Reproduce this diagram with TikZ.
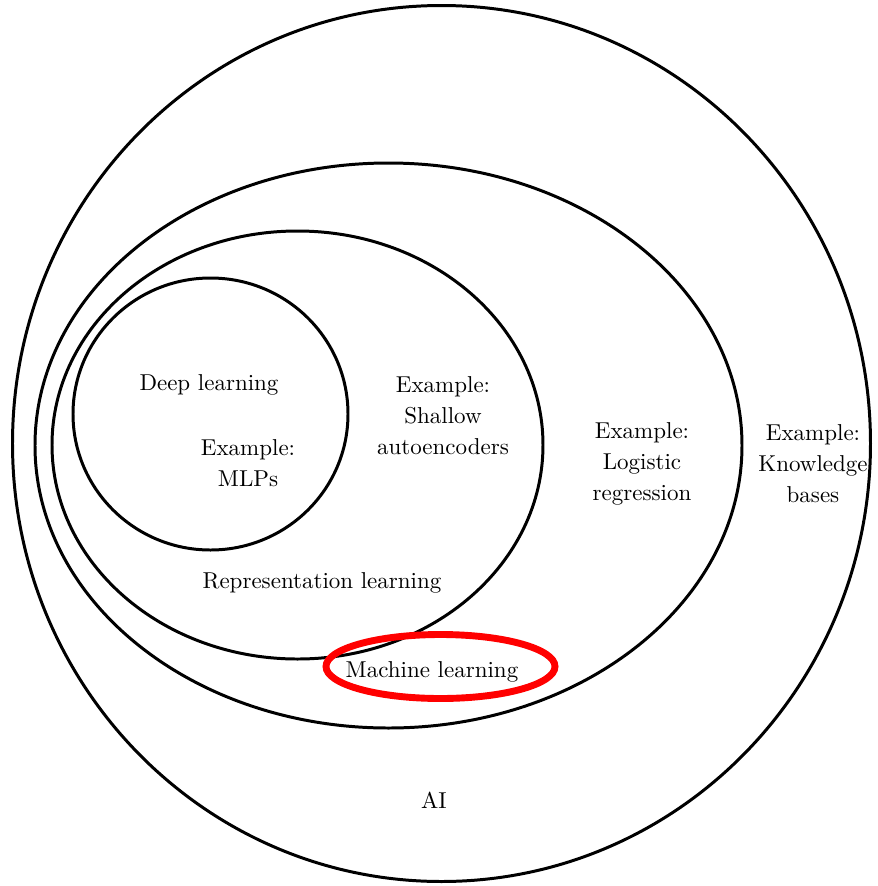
\documentclass[tikz,border=0pt]{standalone}
\usepackage{tikz}
\usetikzlibrary{positioning}

\begin{document}
\begin{tikzpicture}[
    x=0.435pt, y=-0.435pt,
    ring/.style={draw, line width=1.3pt},
    mark red/.style={draw=red, line width=3pt},
    label/.style={align=center, font=\fontsize{10}{13.5}\selectfont}
]
\useasboundingbox (0,0) rectangle (877,886);

\draw[ring] (441.5,443.5) ellipse [x radius=429, y radius=438];
\draw[ring] (388.5,445.5) ellipse [x radius=353.5, y radius=282.5];
\draw[ring] (297.5,445) ellipse [x radius=245.5, y radius=214];
\draw[ring] (210.5,414) ellipse [x radius=137.5, y radius=136];
\draw[mark red] (440.5,666.5) ellipse [x radius=114.5, y radius=32];

\node[label] (deep) at (209,385) {Deep learning};
\node[label] (mlp) at (248,463) {Example:\\MLPs};
\node[label] (shallow) at (443,416) {Example:\\Shallow\\autoencoders};
\node[label] (rep) at (322,583) {Representation learning};
\node[label] (logreg) at (642,464) {Example:\\Logistic\\regression};
\node[label] (kb) at (813,464) {Example:\\Knowledge\\bases};
\node[label] (ml) at (432,672) {Machine learning};
\node[label] (ai) at (434,800) {AI};
\end{tikzpicture}
\end{document}
